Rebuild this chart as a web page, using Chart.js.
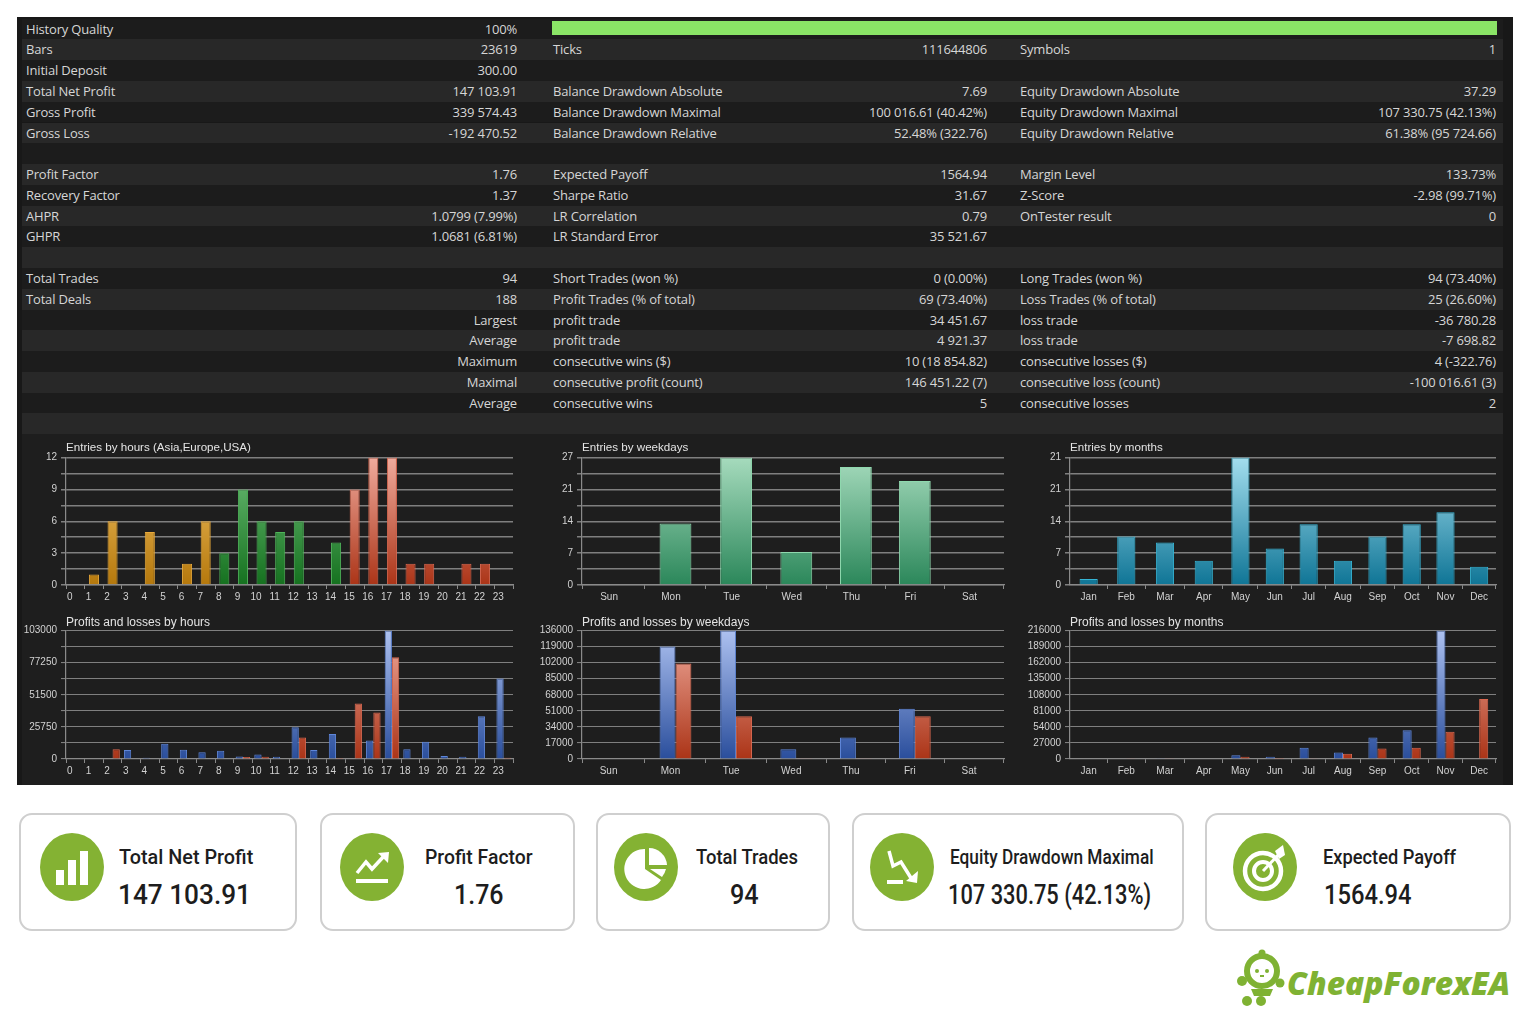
<!DOCTYPE html>
<html>
<head>
<meta charset="utf-8">
<title>Backtest report</title>
<script src="https://cdn.jsdelivr.net/npm/chart.js@4"></script>
<style>
html, body { margin: 0; padding: 0; background: #fff; }
body { position: relative; width: 1536px; height: 1024px; overflow: hidden; font-family: Roboto, sans-serif; }
#panel { position: absolute; left: 17px; top: 17px; width: 1496px; height: 768px; background: #181818; }
#chartBack { position: absolute; left: 22px; top: 434px; width: 1481px; height: 351px; background: #1e1e1e; }
.row { position: absolute; left: 22px; width: 1481px; height: 20.78px; }
.cell { position: absolute; top: 0; font: 13px/20.78px "Open Sans", sans-serif; letter-spacing: -0.17px; color: #d6d6d6; white-space: nowrap; }
#quality { position: absolute; left: 552px; top: 21px; width: 945px; height: 14px; background: #8ae466; }
canvas { position: absolute; }
.card { position: absolute; top: 813px; height: 114px; background: #fff; border: 2px solid #cfcfcf; border-radius: 13px; }
.icon { position: absolute; top: 833px; width: 64px; height: 68px; }
.lbl, .val { position: absolute; color: #1d1d1d; white-space: nowrap; transform-origin: left center; }
.lbl { top: 844px; font: 500 21px/26px Roboto, sans-serif; }
.val { top: 879px; font: 500 27px/32px Roboto, sans-serif; }
#logo { position: absolute; left: 1287px; top: 961px; font: italic 800 31px/44px "Open Sans", sans-serif; color: #7fb233; white-space: nowrap; transform-origin: left center; }
</style>
</head>
<body>
<div id="panel"></div>
<div id="chartBack"></div>
<div id="rows"></div>
<div id="quality"></div>

<canvas id="entriesHours"></canvas>
<canvas id="entriesWeekdays"></canvas>
<canvas id="entriesMonths"></canvas>
<canvas id="plHours"></canvas>
<canvas id="plWeekdays"></canvas>
<canvas id="plMonths"></canvas>

<div class="card" style="left:19px;width:274px"></div>
<div class="card" style="left:320px;width:251px"></div>
<div class="card" style="left:596px;width:230px"></div>
<div class="card" style="left:852px;width:328px"></div>
<div class="card" style="left:1205px;width:302px"></div>

<svg class="icon" style="left:40px" viewBox="0 0 64 68">
  <ellipse cx="32" cy="34" rx="32" ry="34" fill="#84b233"/>
  <rect x="16" y="37" width="8" height="15" fill="#fff"/><rect x="28" y="27" width="8" height="25" fill="#fff"/><rect x="40" y="18" width="8" height="34" fill="#fff"/>
</svg>
<svg class="icon" style="left:340px" viewBox="0 0 64 68">
  <ellipse cx="32" cy="34" rx="32" ry="34" fill="#84b233"/>
  <polyline points="17,40 26,29 32,36 45,22" fill="none" stroke="#fff" stroke-width="3.5"/>
  <polygon points="38,20 49,19 48,30" fill="#fff"/><rect x="16" y="46" width="32" height="4" fill="#fff"/>
</svg>
<svg class="icon" style="left:614px" viewBox="0 0 64 68">
  <ellipse cx="32" cy="34" rx="32" ry="34" fill="#84b233"/>
  <path d="M31 16 A20 20 0 1 0 47 47 L31 36 Z" fill="#fff"/>
  <path d="M35 15 A18 18 0 0 1 53 32 L35 32 Z" fill="#fff"/>
  <path d="M36 36 L52 36 A20 20 0 0 1 48 44 Z" fill="#fff"/>
</svg>
<svg class="icon" style="left:870px" viewBox="0 0 64 68">
  <ellipse cx="32" cy="34" rx="32" ry="34" fill="#84b233"/>
  <polyline points="19,18 23,33 31,29 41,45" fill="none" stroke="#fff" stroke-width="3.5"/>
  <polygon points="48,38 47,50 36,48" fill="#fff"/><rect x="17" y="47" width="16" height="4" fill="#fff"/>
</svg>
<svg class="icon" style="left:1233px" viewBox="0 0 64 68">
  <ellipse cx="32" cy="34" rx="32" ry="34" fill="#84b233"/>
  <circle cx="30" cy="38" r="18" fill="none" stroke="#fff" stroke-width="4.5"/>
  <circle cx="30" cy="38" r="9" fill="none" stroke="#fff" stroke-width="4"/>
  <line x1="30" y1="38" x2="47" y2="20" stroke="#fff" stroke-width="3"/>
  <polygon points="42,18 50,12 52,22 46,26" fill="#fff"/>
</svg>

<div class="lbl" data-w="134" style="left:119px">Total Net Profit</div>
<div class="val" data-w="133" style="left:118px">147 103.91</div>
<div class="lbl" data-w="108" style="left:425px">Profit Factor</div>
<div class="val" data-w="50" style="left:454px">1.76</div>
<div class="lbl" data-w="102" style="left:696px">Total Trades</div>
<div class="val" data-w="29" style="left:730px">94</div>
<div class="lbl" data-w="204" style="left:950px">Equity Drawdown Maximal</div>
<div class="val" data-w="203" style="left:948px">107 330.75 (42.13%)</div>
<div class="lbl" data-w="133" style="left:1323px">Expected Payoff</div>
<div class="val" data-w="88" style="left:1324px">1564.94</div>

<svg style="position:absolute;left:1235px;top:949px" width="52" height="60" viewBox="0 0 52 60">
  <circle cx="27" cy="4" r="3.5" fill="#7fb233"/>
  <circle cx="27" cy="22" r="15" fill="#fff" stroke="#7fb233" stroke-width="6"/>
  <circle cx="22" cy="22" r="2" fill="#7fb233"/><circle cx="32" cy="22" r="2" fill="#7fb233"/><rect x="25" y="26" width="4" height="2" fill="#7fb233"/>
  <circle cx="7" cy="32" r="5" fill="#7fb233"/><circle cx="45" cy="34" r="4.5" fill="#7fb233"/>
  <path d="M16 40 H38 L35 47 H19 Z" fill="#7fb233"/>
  <circle cx="12" cy="52" r="5" fill="#7fb233"/><circle cx="26" cy="52" r="5" fill="#7fb233"/>
</svg>
<div id="logo" data-w="223">CheapForexEA</div>

<script>
// report table
const tableRows = [
    ['History Quality', '100%', '', '', '', ''],
    ['Bars', '23619', 'Ticks', '111644806', 'Symbols', '1'],
    ['Initial Deposit', '300.00', '', '', '', ''],
    ['Total Net Profit', '147 103.91', 'Balance Drawdown Absolute', '7.69', 'Equity Drawdown Absolute', '37.29'],
    ['Gross Profit', '339 574.43', 'Balance Drawdown Maximal', '100 016.61 (40.42%)', 'Equity Drawdown Maximal', '107 330.75 (42.13%)'],
    ['Gross Loss', '-192 470.52', 'Balance Drawdown Relative', '52.48% (322.76)', 'Equity Drawdown Relative', '61.38% (95 724.66)'],
    ['', '', '', '', '', ''],
    ['Profit Factor', '1.76', 'Expected Payoff', '1564.94', 'Margin Level', '133.73%'],
    ['Recovery Factor', '1.37', 'Sharpe Ratio', '31.67', 'Z-Score', '-2.98 (99.71%)'],
    ['AHPR', '1.0799 (7.99%)', 'LR Correlation', '0.79', 'OnTester result', '0'],
    ['GHPR', '1.0681 (6.81%)', 'LR Standard Error', '35 521.67', '', ''],
    ['', '', '', '', '', ''],
    ['Total Trades', '94', 'Short Trades (won %)', '0 (0.00%)', 'Long Trades (won %)', '94 (73.40%)'],
    ['Total Deals', '188', 'Profit Trades (% of total)', '69 (73.40%)', 'Loss Trades (% of total)', '25 (26.60%)'],
    ['', 'Largest', 'profit trade', '34 451.67', 'loss trade', '-36 780.28'],
    ['', 'Average', 'profit trade', '4 921.37', 'loss trade', '-7 698.82'],
    ['', 'Maximum', 'consecutive wins ($)', '10 (18 854.82)', 'consecutive losses ($)', '4 (-322.76)'],
    ['', 'Maximal', 'consecutive profit (count)', '146 451.22 (7)', 'consecutive loss (count)', '-100 016.61 (3)'],
    ['', 'Average', 'consecutive wins', '5', 'consecutive losses', '2'],
    ['', '', '', '', '', '']
];

// categories
const hours = ['0', '1', '2', '3', '4', '5', '6', '7', '8', '9', '10', '11', '12', '13', '14', '15', '16', '17', '18', '19', '20', '21', '22', '23'];
const weekdays = ['Sun', 'Mon', 'Tue', 'Wed', 'Thu', 'Fri', 'Sat'];
const months = ['Jan', 'Feb', 'Mar', 'Apr', 'May', 'Jun', 'Jul', 'Aug', 'Sep', 'Oct', 'Nov', 'Dec'];

// entries
const entriesByHour = [0, 1, 6, 0, 5, 0, 2, 6, 3, 9, 6, 5, 6, 0, 4, 9, 12, 12, 2, 2, 0, 2, 2, 0];
const entriesByWeekday = [0, 13, 27, 7, 25, 22, 0];
const entriesByMonth = [1, 8, 7, 4, 21, 6, 10, 4, 8, 10, 12, 3];

// profits and losses
const profitByHour = [0, 0, 0, 7150, 1000, 12200, 7400, 5500, 6600, 2100, 3700, 1800, 25400, 7200, 20100, 0, 14800, 103000, 7900, 13800, 2400, 1800, 34200, 64600];
const lossByHour = [0, 0, 7900, 0, 0, 0, 0, 0, 0, 1600, 1800, 0, 17200, 0, 800, 44500, 37300, 81500, 0, 0, 0, 0, 0, 1000];
const profitByWeekday = [0, 119000, 136000, 10200, 22800, 53300, 0];
const lossByWeekday = [0, 101000, 45200, 700, 700, 45200, 0];
const profitByMonth = [1000, 800, 1200, 1000, 6100, 3900, 18900, 11100, 36200, 48400, 216000, 0];
const lossByMonth = [0, 500, 500, 0, 3900, 1500, 500, 8900, 17800, 18900, 45600, 100800];

// tick labels, top to bottom, one per grid line
const ticksEntriesHour = ['12', '', '9', '', '6', '', '3', '', '0'];
const ticksEntriesWeekday = ['27', '', '21', '', '14', '', '7', '', '0'];
const ticksEntriesMonth = ['21', '', '21', '', '14', '', '7', '', '0'];
const ticksPlHour = ['103000', '', '77250', '', '51500', '', '25750', '', '0'];
const ticksPlWeekday = ['136000', '119000', '102000', '85000', '68000', '51000', '34000', '17000', '0'];
const ticksPlMonth = ['216000', '189000', '162000', '135000', '108000', '81000', '54000', '27000', '0'];

// the report's x axes are not quite even: relative width of each band
const weekdayBands = [63, 60.7, 60.3, 60, 59, 58.7, 59.7];
const monthBands = [37.3, 38, 39.3, 38.3, 35, 33.7, 34, 34.6, 34.4, 34, 33.6, 33.7];

// colours: top of the plot, bottom of the plot, bar edge
const AMBER = ['#f3c467', '#b5780c', '#e8a93a'];
const GREEN = ['#6fbf78', '#15711f', '#4fb45a'];
const SALMON = ['#f0ab9d', '#ab3417', '#d9674f'];
const MINT = ['#a6dbbd', '#2b875a', '#8fd8ae'];
const TEAL = ['#a3deee', '#0f7596', '#35b4d4'];
const BLUE = ['#adc1f0', '#2a4e9c', '#5f86d8'];

// category scale with bands of unequal width
class BandScale extends Chart.CategoryScale {
    getPixelForDecimal(decimal) {
        const bands = this.options.bands;
        if (!bands) return super.getPixelForDecimal(decimal);
        const total = bands.reduce((a, b) => a + b, 0);
        const pos = decimal * bands.length;
        const whole = Math.max(0, Math.min(bands.length - 1, Math.floor(pos)));
        let sum = 0;
        for (let i = 0; i < whole; i++) sum += bands[i];
        sum += bands[whole] * (pos - whole);
        return super.getPixelForDecimal(sum / total);
    }
}
BandScale.id = 'band';
BandScale.defaults = Chart.CategoryScale.defaults;
Chart.register(BandScale);

function hourColour(index) {
    if (index < 8) return AMBER;
    if (index < 15) return GREEN;
    return SALMON;
}

function gradient(chart, palette) {
    const area = chart.chartArea;
    if (!area) return palette[1];
    const g = chart.ctx.createLinearGradient(0, area.top, 0, area.bottom);
    g.addColorStop(0, palette[0]);
    g.addColorStop(1, palette[1]);
    return g;
}

function makeDataset(values, paletteOf, pick) {
    return {
        data: values,
        backgroundColor: c => gradient(c.chart, paletteOf(c.dataIndex)),
        borderColor: c => paletteOf(c.dataIndex)[2],
        borderWidth: 1,
        barPercentage: pick.bar,
        categoryPercentage: pick.cat
    };
}

function renderChart(id, box, title, labels, bands, datasets, maxValue, tickLabels, labelShift) {
    const yWidth = 48, titleH = box.titleSize * 1.2;
    const canvas = document.getElementById(id);
    const left = box.left - yWidth;
    canvas.width = box.right + 14 - left;
    canvas.height = box.bottom + 23 - box.titleTop;
    canvas.style.left = left + 'px';
    canvas.style.top = box.titleTop + 'px';

    new Chart(canvas.getContext('2d'), {
        type: 'bar',
        data: { labels: labels, datasets: datasets },
        options: {
            responsive: false,
            animation: false,
            layout: { padding: { right: 14 } },
            plugins: {
                legend: { display: false },
                tooltip: { enabled: false },
                title: {
                    display: true,
                    text: title,
                    align: 'start',
                    fullSize: false,
                    color: '#e4e4e4',
                    font: { family: '"Liberation Sans"', size: box.titleSize, weight: 'normal', lineHeight: 1.2 },
                    padding: { top: 0, bottom: box.top - box.titleTop - titleH }
                }
            },
            scales: {
                x: {
                    type: 'band',
                    bands: bands,
                    afterFit: s => { s.height = 23; },
                    border: { color: '#8a8a8a', width: 1.2 },
                    grid: { drawOnChartArea: false, color: '#8a8a8a', tickLength: 4 },
                    ticks: {
                        color: '#d2d2d2',
                        font: { family: '"Liberation Sans"', size: 10 },
                        padding: 2,
                        maxRotation: 0,
                        autoSkip: false,
                        labelOffset: labelShift
                    }
                },
                y: {
                    min: 0,
                    max: maxValue,
                    afterFit: s => { s.width = yWidth; },
                    border: { color: '#8a8a8a', width: 1.2 },
                    grid: { color: '#7f7f7f', lineWidth: box.gridWidth, tickLength: 5 },
                    ticks: {
                        stepSize: maxValue / 8,
                        autoSkip: false,
                        color: '#d2d2d2',
                        font: { family: '"Liberation Sans"', size: 10 },
                        padding: 4,
                        callback: (v, i) => tickLabels[8 - i]
                    }
                }
            }
        }
    });
}

function renderTable() {
    const holder = document.getElementById('rows');
    const place = [['left', 4], ['right', 986], ['left', 531], ['right', 516], ['left', 998], ['right', 7]];
    tableRows.forEach((row, i) => {
        const div = document.createElement('div');
        div.className = 'row';
        div.style.top = (18.6 + i * 20.78) + 'px';
        div.style.background = i % 2 ? '#282828' : '#1c1c1c';
        row.forEach((text, c) => {
            if (!text) return;
            const span = document.createElement('span');
            span.className = 'cell';
            span.style[place[c][0]] = place[c][1] + 'px';
            span.textContent = text;
            div.appendChild(span);
        });
        holder.appendChild(div);
    });
}

// squeeze card texts to the width they have in the report
function fitTexts() {
    document.querySelectorAll('[data-w]').forEach(el => {
        const ratio = Number(el.dataset.w) / el.offsetWidth;
        el.style.transform = 'scaleX(' + ratio + ')';
    });
}

window.onload = function () {
    renderTable();
    fitTexts();

    const single = { bar: 0.54, cat: 1 };
    const pair = { bar: 1, cat: 0.78 };
    const pairWide = { bar: 1, cat: 0.54 };

    const col1 = { left: 66, right: 513 };
    const col2 = { left: 582, right: 1004 };
    const col3 = { left: 1070, right: 1496 };
    const top = { titleTop: 440.5, top: 457, bottom: 585, gridWidth: 1.5, titleSize: 11.6 };
    const low = { titleTop: 614.5, top: 630, bottom: 759, gridWidth: 1.1, titleSize: 12 };

    renderChart('entriesHours', { ...col1, ...top }, 'Entries by hours (Asia,Europe,USA)', hours, null,
        [makeDataset(entriesByHour, hourColour, single)], 12, ticksEntriesHour, -5.5);
    renderChart('entriesWeekdays', { ...col2, ...top }, 'Entries by weekdays', weekdays, weekdayBands,
        [makeDataset(entriesByWeekday, () => MINT, single)], 27, ticksEntriesWeekday, -4.5);
    renderChart('entriesMonths', { ...col3, ...top }, 'Entries by months', months, monthBands,
        [makeDataset(entriesByMonth, () => TEAL, single)], 21, ticksEntriesMonth, 0);

    renderChart('plHours', { ...col1, ...low }, 'Profits and losses by hours', hours, null,
        [makeDataset(profitByHour, () => BLUE, pair), makeDataset(lossByHour, () => SALMON, pair)], 103000, ticksPlHour, -5.5);
    renderChart('plWeekdays', { ...col2, ...low }, 'Profits and losses by weekdays', weekdays, weekdayBands,
        [makeDataset(profitByWeekday, () => BLUE, pairWide), makeDataset(lossByWeekday, () => SALMON, pairWide)], 136000, ticksPlWeekday, -5);
    renderChart('plMonths', { ...col3, ...low }, 'Profits and losses by months', months, monthBands,
        [makeDataset(profitByMonth, () => BLUE, pairWide), makeDataset(lossByMonth, () => SALMON, pairWide)], 216000, ticksPlMonth, 0);
};
</script>
</body>
</html>
